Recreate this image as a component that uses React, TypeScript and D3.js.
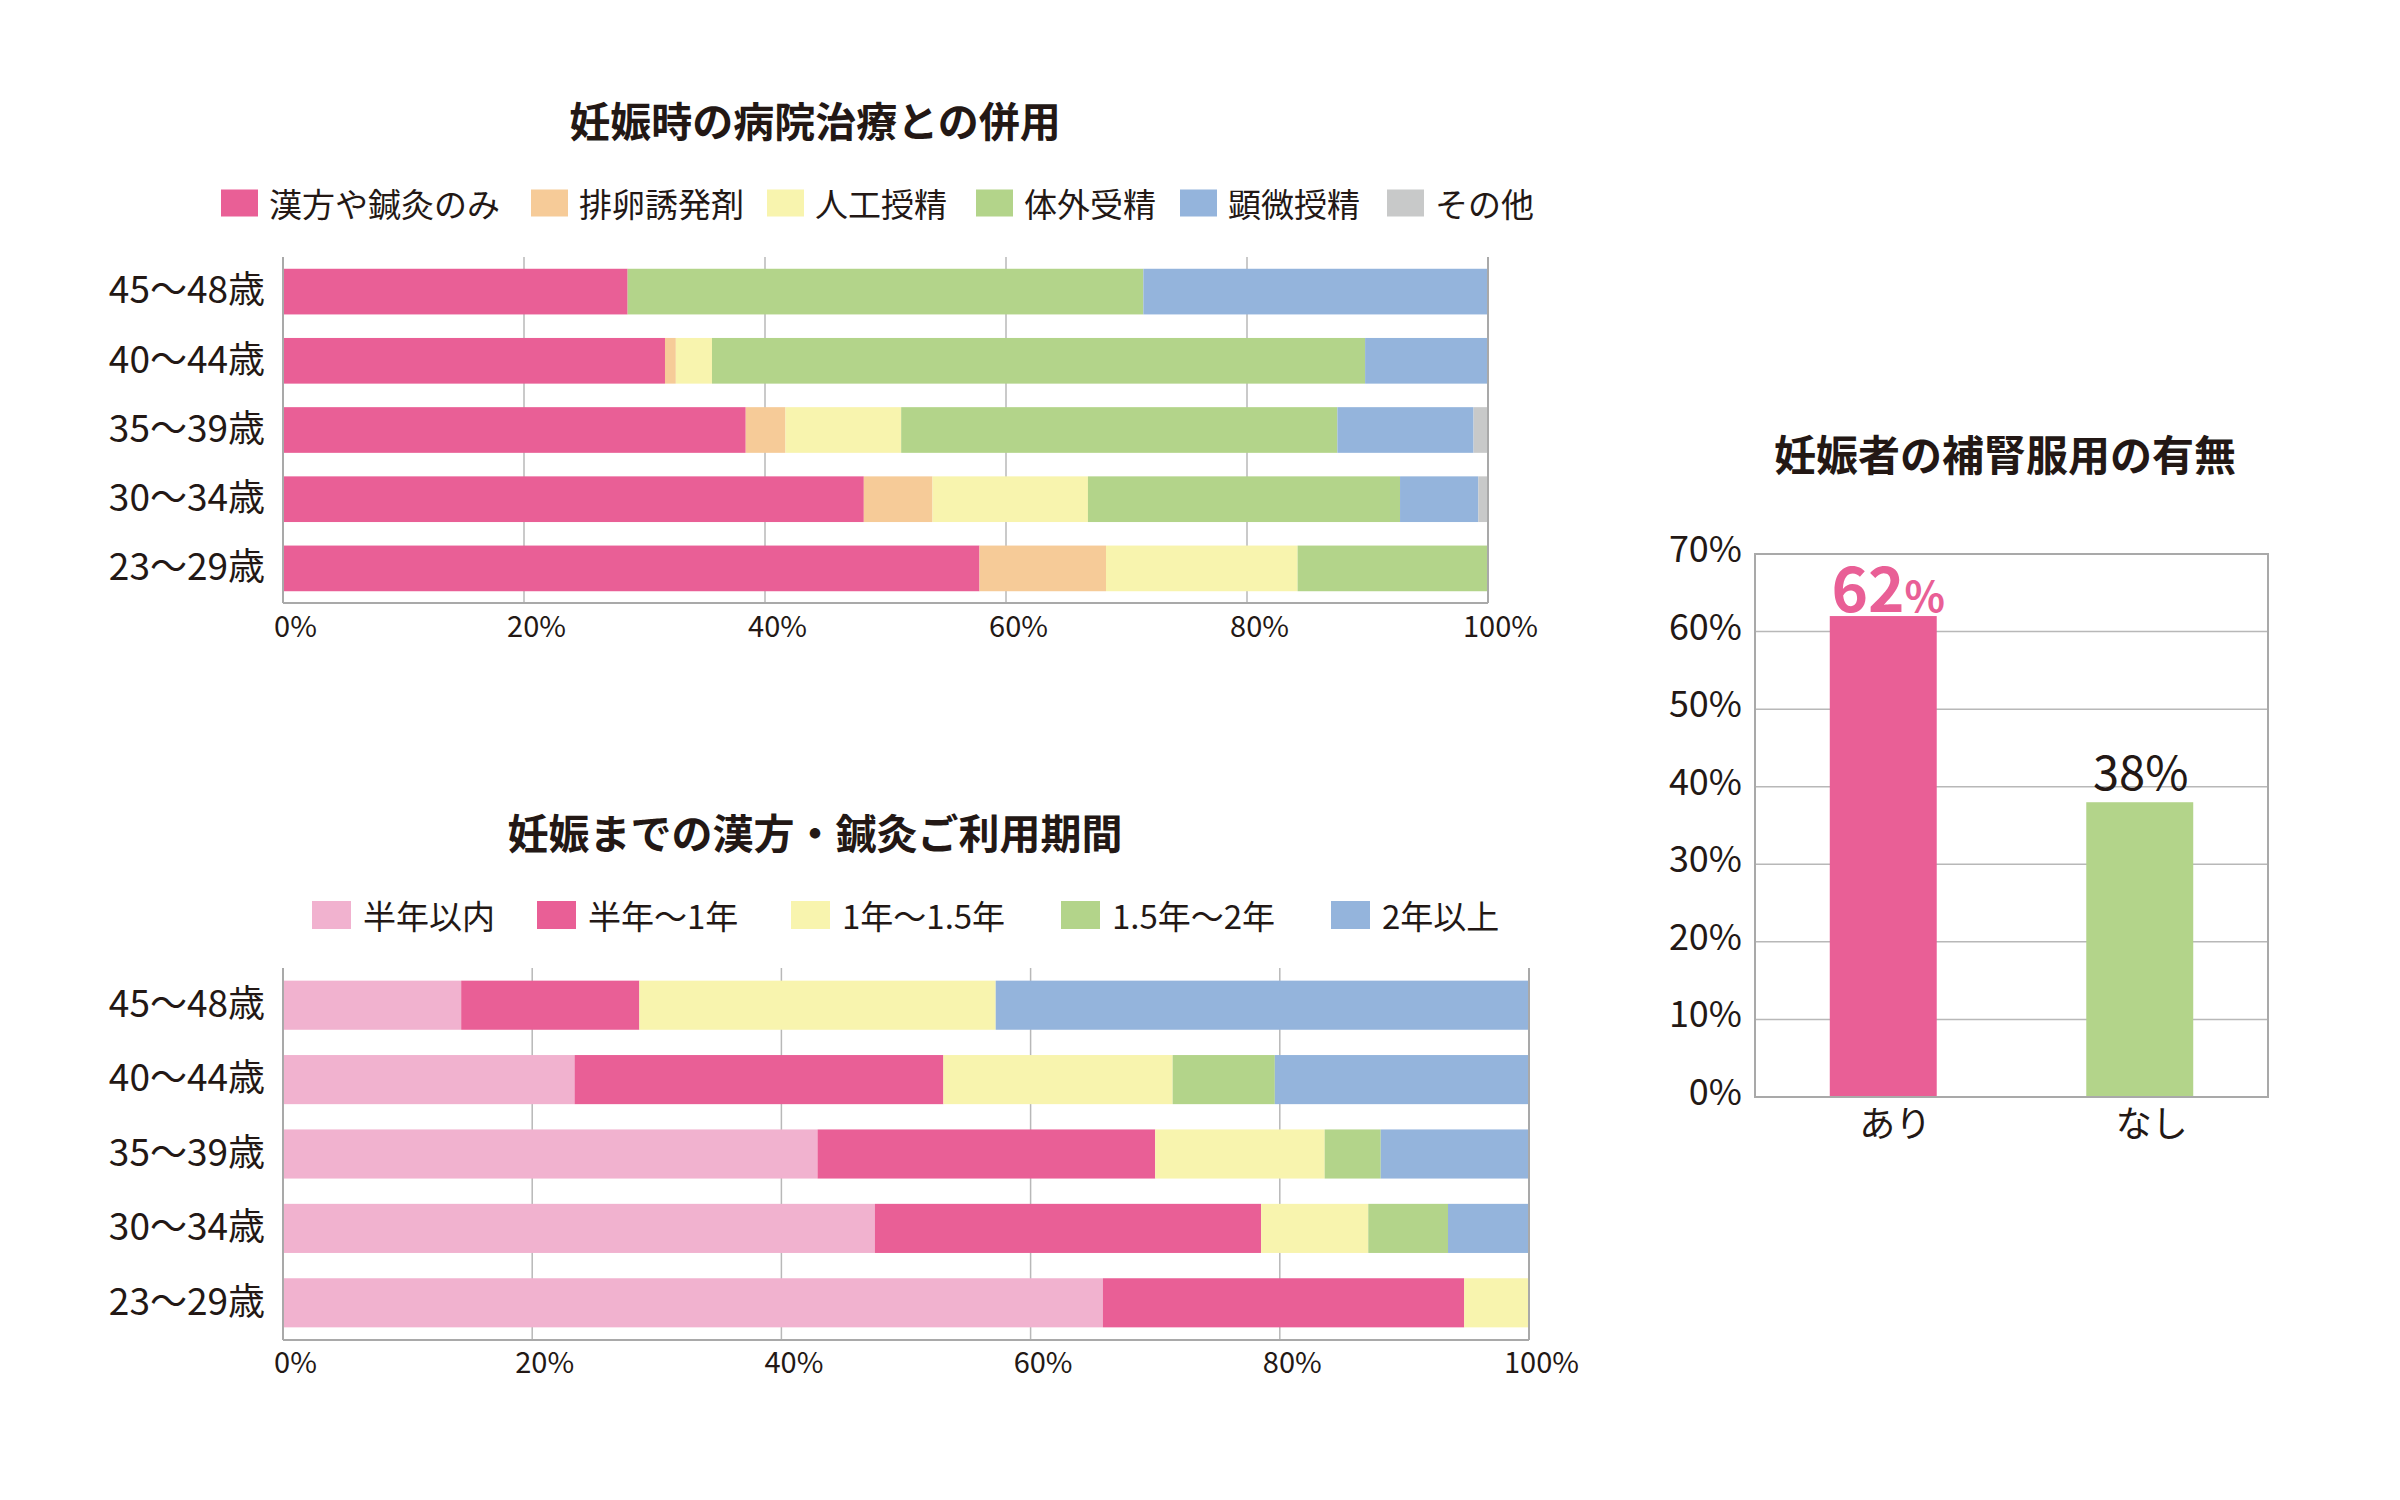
import React, { useEffect, useRef } from 'react';
import * as d3 from 'd3';

// age groups, top to bottom
const ageGroups = ['45〜48歳', '40〜44歳', '35〜39歳', '30〜34歳', '23〜29歳'];

// 妊娠時の病院治療との併用 (%)
const treatKeys = ['漢方や鍼灸のみ', '排卵誘発剤', '人工授精', '体外受精', '顕微授精', 'その他'];
const treatColors = ['#E95F96', '#F6CB98', '#F8F4AE', '#B3D48A', '#94B4DC', '#C8C9C9'];
const kampoOnly = [28.6, 31.7, 38.4, 48.2, 57.8];
const ovulation = [0, 0.9, 3.3, 5.7, 10.5];
const insemination = [0, 3.0, 9.6, 12.9, 15.9];
const ivf = [42.8, 54.2, 36.2, 25.9, 15.8];
const icsi = [28.6, 10.2, 11.3, 6.5, 0];
const otherTreat = [0, 0, 1.2, 0.8, 0];

// 妊娠までの漢方・鍼灸ご利用期間 (%)
const durKeys = ['半年以内', '半年〜1年', '1年〜1.5年', '1.5年〜2年', '2年以上'];
const durColors = ['#F1B2CF', '#E95F96', '#F8F4AE', '#B3D48A', '#94B4DC'];
const within6m = [14.3, 23.4, 42.9, 47.5, 65.8];
const m6to1y = [14.3, 29.6, 27.1, 31.0, 29.0];
const y1to15 = [28.6, 18.4, 13.6, 8.6, 5.2];
const y15to2 = [0, 8.2, 4.5, 6.4, 0];
const over2y = [42.8, 20.4, 11.9, 6.5, 0];

// 妊娠者の補腎服用の有無 (%)
const suppCats = ['あり', 'なし'];
const suppValues = [62, 38];
const suppColors = ['#E95F96', '#B3D48A'];

const pctTicks = [0, 20, 40, 60, 80, 100];
const suppTicks = [0, 10, 20, 30, 40, 50, 60, 70];

const FONT = '"Noto Sans CJK JP", "Noto Sans", sans-serif';
const INK = '#231815';
const GRID = '#B8B8B8';
const FRAME = '#A9A9A9';

interface StackOpts {
  title: string;
  titleX: number;
  titleY: number;
  keys: string[];
  colors: string[];
  series: number[][];
  left: number;
  right: number;
  top: number;
  bottom: number;
  legendXs: number[];
  legendY: number;
  swatchW: number;
  swatchH: number;
  textGap: number;
  tickPad: number;
}

function drawStacked(root: d3.Selection<SVGSVGElement, unknown, null, undefined>, o: StackOpts) {
  const g = root.append('g').attr('font-family', FONT);

  g.append('text')
    .attr('x', o.titleX)
    .attr('y', o.titleY)
    .attr('text-anchor', 'middle')
    .attr('dominant-baseline', 'central')
    .attr('font-size', 41)
    .attr('font-weight', 700)
    .attr('fill', INK)
    .text(o.title);

  // legend
  const legend = g
    .append('g')
    .selectAll('g')
    .data(o.keys)
    .join('g')
    .attr('transform', (_, i) => `translate(${o.legendXs[i]}, ${o.legendY})`);
  legend
    .append('rect')
    .attr('y', -o.swatchH / 2)
    .attr('width', o.swatchW)
    .attr('height', o.swatchH)
    .attr('fill', (_, i) => o.colors[i]);
  legend
    .append('text')
    .attr('x', o.swatchW + o.textGap)
    .attr('dominant-baseline', 'central')
    .attr('font-size', 33)
    .attr('fill', INK)
    .text((d) => d);

  const rows = ageGroups.map((age, i) => {
    const r: { [key: string]: number | string } = { age };
    o.keys.forEach((k, j) => {
      r[k] = o.series[j][i];
    });
    return r;
  });

  const x = d3.scaleLinear().domain([0, 100]).range([o.left, o.right]);
  const y = d3.scaleBand().domain(ageGroups).range([o.top, o.bottom]).paddingInner(0.34).paddingOuter(0.17);

  // grid behind bars
  g.append('g')
    .selectAll('line')
    .data(pctTicks.slice(1, -1))
    .join('line')
    .attr('x1', (d) => x(d))
    .attr('x2', (d) => x(d))
    .attr('y1', o.top)
    .attr('y2', o.bottom)
    .attr('stroke', GRID)
    .attr('stroke-width', 1.5);

  const stacked = d3.stack<{ [key: string]: number | string }>().keys(o.keys).value((d, k) => d[k] as number)(rows);

  g.append('g')
    .selectAll('g')
    .data(stacked)
    .join('g')
    .attr('fill', (_, i) => o.colors[i])
    .selectAll('rect')
    .data((d) => d)
    .join('rect')
    .attr('x', (d) => x(d[0]))
    .attr('width', (d) => x(d[1]) - x(d[0]))
    .attr('y', (d) => y(d.data.age as string)!)
    .attr('height', y.bandwidth());

  // frame: left, right, bottom
  const frame = g.append('g').attr('stroke', FRAME).attr('stroke-width', 2).attr('fill', 'none');
  frame.append('line').attr('x1', o.left).attr('x2', o.left).attr('y1', o.top).attr('y2', o.bottom);
  frame.append('line').attr('x1', o.right).attr('x2', o.right).attr('y1', o.top).attr('y2', o.bottom);
  frame.append('line').attr('x1', o.left).attr('x2', o.right).attr('y1', o.bottom).attr('y2', o.bottom);

  // x tick labels
  const xa = g
    .append('g')
    .attr('transform', `translate(0, ${o.bottom})`)
    .call(d3.axisBottom(x).tickValues(pctTicks).tickFormat((d) => `${d}%`).tickSize(0).tickPadding(o.tickPad));
  xa.select('.domain').remove();
  xa.selectAll('text').attr('font-family', FONT).attr('font-size', 29).attr('fill', INK).attr('dx', 12);

  // age labels
  const ya = g
    .append('g')
    .attr('transform', `translate(${o.left}, 0)`)
    .call(d3.axisLeft(y).tickSize(0).tickPadding(18));
  ya.select('.domain').remove();
  ya.selectAll('text').attr('font-family', FONT).attr('font-size', 37).attr('fill', INK);
}

function drawSupplement(root: d3.Selection<SVGSVGElement, unknown, null, undefined>) {
  const left = 1755;
  const right = 2268;
  const top = 554;
  const bottom = 1097;
  const g = root.append('g').attr('font-family', FONT);

  g.append('text')
    .attr('x', 2005)
    .attr('y', 452)
    .attr('text-anchor', 'middle')
    .attr('dominant-baseline', 'central')
    .attr('font-size', 42)
    .attr('font-weight', 700)
    .attr('fill', INK)
    .text('妊娠者の補腎服用の有無');

  const x = d3.scaleBand().domain(suppCats).range([left, right]).paddingInner(0.583).paddingOuter(0.2915);
  const y = d3.scaleLinear().domain([0, 70]).range([bottom, top]);

  g.append('g')
    .selectAll('line')
    .data(suppTicks.slice(1, -1))
    .join('line')
    .attr('x1', left)
    .attr('x2', right)
    .attr('y1', (d) => y(d))
    .attr('y2', (d) => y(d))
    .attr('stroke', GRID)
    .attr('stroke-width', 1.5);

  g.append('rect')
    .attr('x', left)
    .attr('y', top)
    .attr('width', right - left)
    .attr('height', bottom - top)
    .attr('fill', 'none')
    .attr('stroke', FRAME)
    .attr('stroke-width', 2);

  g.append('g')
    .selectAll('rect')
    .data(suppValues)
    .join('rect')
    .attr('x', (_, i) => x(suppCats[i])!)
    .attr('width', x.bandwidth())
    .attr('y', (d) => y(d))
    .attr('height', (d) => bottom - y(d) - 1)
    .attr('fill', (_, i) => suppColors[i]);

  const ya = g
    .append('g')
    .attr('transform', `translate(${left}, 0)`)
    .call(d3.axisLeft(y).tickValues(suppTicks).tickFormat((d) => `${d}%`).tickSize(0).tickPadding(13));
  ya.select('.domain').remove();
  ya.selectAll('text').attr('font-family', FONT).attr('font-size', 36).attr('fill', INK).attr('y', -4);

  const xa = g
    .append('g')
    .attr('transform', `translate(0, ${bottom})`)
    .call(d3.axisBottom(x).tickSize(0).tickPadding(14));
  xa.select('.domain').remove();
  xa.selectAll('text').attr('font-family', FONT).attr('font-size', 36).attr('fill', INK).attr('dx', 12);

  // value labels
  const cx0 = x(suppCats[0])! + x.bandwidth() / 2;
  const lab0 = g
    .append('text')
    .attr('x', cx0 + 5)
    .attr('y', y(suppValues[0]) - 4)
    .attr('text-anchor', 'middle')
    .attr('font-weight', 700)
    .attr('fill', suppColors[0]);
  lab0.append('tspan').attr('font-size', 62).text(`${suppValues[0]}`);
  lab0.append('tspan').attr('font-size', 42).text('%');

  const cx1 = x(suppCats[1])! + x.bandwidth() / 2;
  g.append('text')
    .attr('x', cx1 + 1)
    .attr('y', y(suppValues[1]) - 12)
    .attr('text-anchor', 'middle')
    .attr('font-size', 47)
    .attr('fill', INK)
    .text(`${suppValues[1]}%`);
}

const App: React.FC = () => {
  const svgRef = useRef<SVGSVGElement | null>(null);

  useEffect(() => {
    const svg = d3.select(svgRef.current as SVGSVGElement);
    svg.selectAll('*').remove();

    drawStacked(svg, {
      title: '妊娠時の病院治療との併用',
      titleX: 815,
      titleY: 119,
      keys: treatKeys,
      colors: treatColors,
      series: [kampoOnly, ovulation, insemination, ivf, icsi, otherTreat],
      left: 283,
      right: 1488,
      top: 257,
      bottom: 603,
      legendXs: [221, 531, 767, 976, 1180, 1387],
      legendY: 203,
      swatchW: 37,
      swatchH: 27,
      textGap: 11,
      tickPad: 13,
    });

    drawStacked(svg, {
      title: '妊娠までの漢方・鍼灸ご利用期間',
      titleX: 815,
      titleY: 831,
      keys: durKeys,
      colors: durColors,
      series: [within6m, m6to1y, y1to15, y15to2, over2y],
      left: 283,
      right: 1529,
      top: 968,
      bottom: 1340,
      legendXs: [312, 537, 791, 1061, 1331],
      legendY: 915,
      swatchW: 39,
      swatchH: 28,
      textGap: 12,
      tickPad: 12,
    });

    drawSupplement(svg);
  }, []);

  return (
    <svg
      ref={svgRef}
      width={2400}
      height={1500}
      style={{ position: 'absolute', left: 0, top: 0, background: '#fff' }}
    ></svg>
  );
};

export default App;
